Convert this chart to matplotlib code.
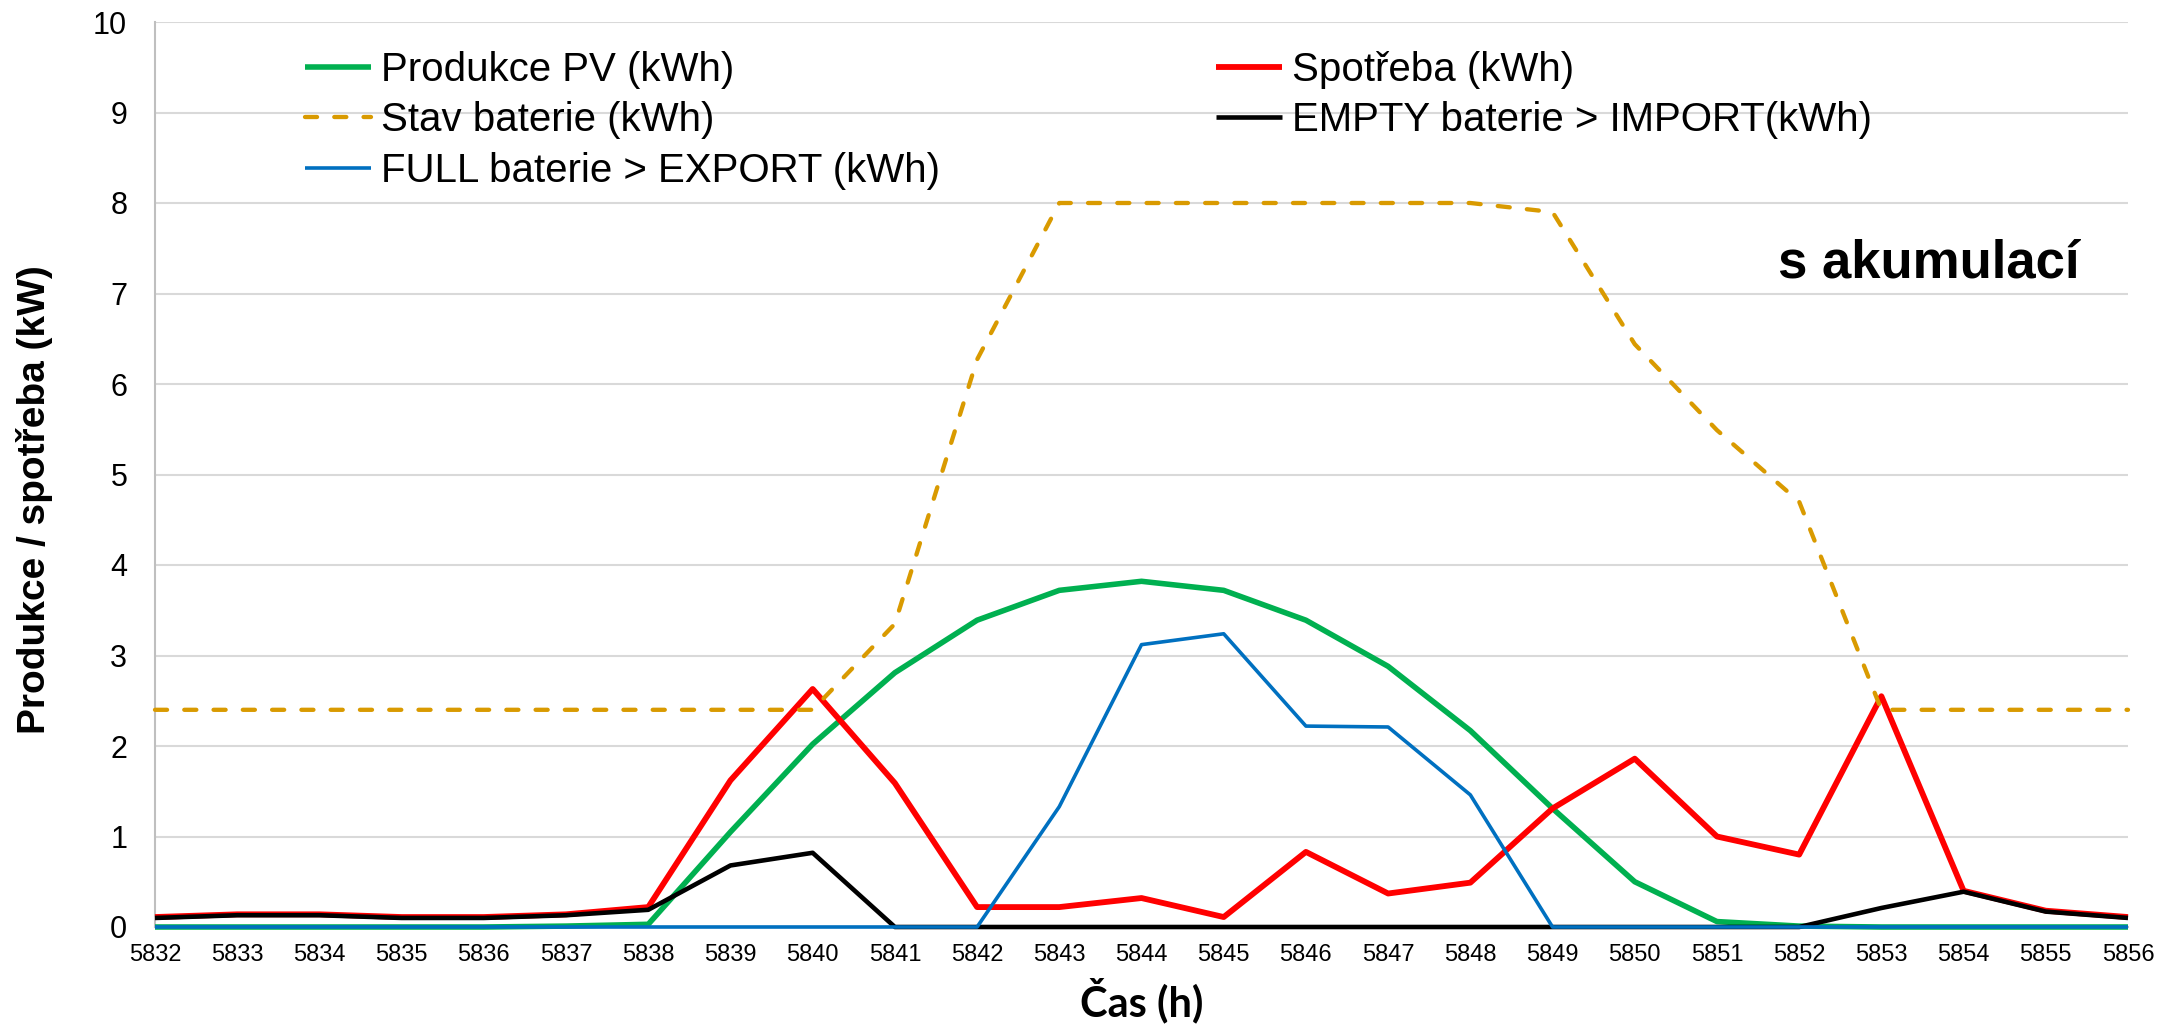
import matplotlib
matplotlib.use("Agg")
import matplotlib.pyplot as plt

plt.rcParams['font.family'] = ['Liberation Sans', 'DejaVu Sans']

# hodinová data (h)
hours = list(range(5832, 5857))
produkce_pv = [0.0, 0.0, 0.0, 0.0, 0.0, 0.01, 0.03, 1.05, 2.02, 2.81, 3.39, 3.72, 3.82,
               3.72, 3.39, 2.88, 2.17, 1.31, 0.50, 0.06, 0.01, 0.0, 0.0, 0.0, 0.0]
spotreba = [0.11, 0.14, 0.14, 0.11, 0.11, 0.14, 0.22, 1.62, 2.63, 1.59, 0.22, 0.22, 0.32,
            0.11, 0.83, 0.37, 0.49, 1.31, 1.86, 1.00, 0.80, 2.55, 0.40, 0.18, 0.11]
stav_baterie = [2.4, 2.4, 2.4, 2.4, 2.4, 2.4, 2.4, 2.4, 2.4, 3.35, 6.27, 8.0, 8.0,
                8.0, 8.0, 8.0, 8.0, 7.9, 6.44, 5.49, 4.70, 2.4, 2.4, 2.4, 2.4]
empty_import = [0.10, 0.13, 0.13, 0.10, 0.10, 0.13, 0.19, 0.68, 0.82, 0.0, 0.0, 0.0, 0.0,
                0.0, 0.0, 0.0, 0.0, 0.0, 0.0, 0.0, 0.0, 0.21, 0.39, 0.17, 0.10]
full_export = [0.0, 0.0, 0.0, 0.0, 0.0, 0.0, 0.0, 0.0, 0.0, 0.0, 0.0, 1.33, 3.12,
               3.24, 2.22, 2.21, 1.46, 0.0, 0.0, 0.0, 0.0, 0.0, 0.0, 0.0, 0.0]

W, H = 2157, 1025
fig = plt.figure(figsize=(W / 100, H / 100), dpi=100)
ax = fig.add_axes([155 / W, 1 - 927 / H, (2128 - 155) / W, (927 - 22) / H])

common = dict(clip_on=False, solid_joinstyle='round', solid_capstyle='butt')
l_pv, = ax.plot(hours, produkce_pv, color='#00B050', lw=4.0, zorder=3, **common)
l_sp, = ax.plot(hours, spotreba, color='#FF0000', lw=4.2, zorder=4, **common)
l_st, = ax.plot(hours, stav_baterie, color='#D99A00', lw=3.1, zorder=5, clip_on=False,
                linestyle=(0, (2.8, 4.0)), dash_capstyle='round', dash_joinstyle='round')
l_im, = ax.plot(hours, empty_import, color='#000000', lw=3.3, zorder=6, **common)
l_ex, = ax.plot(hours, full_export, color='#0070C0', lw=2.6, zorder=7, **common)

ax.set_xlim(5832, 5856)
ax.set_ylim(0, 10)
ax.set_xticks(hours)
ax.set_yticks(range(0, 11))
ax.tick_params(axis='x', length=0, labelsize=17, pad=12)
ax.tick_params(axis='y', length=0, labelsize=22, pad=20)
ax.grid(axis='y', color='#D9D9D9', lw=1.5)
ax.set_axisbelow(True)
for s in ('top', 'right'):
    ax.spines[s].set_visible(False)
for s in ('left', 'bottom'):
    ax.spines[s].set_color('#BFBFBF')
    ax.spines[s].set_linewidth(1.5)

# legenda ve dvou sloupcich
leg_kw = dict(loc='upper left', bbox_transform=fig.transFigure, frameon=False,
              fontsize=29, borderpad=0, borderaxespad=0, handlelength=1.64,
              handletextpad=0.25, labelspacing=0.31)
leg1 = fig.legend([l_pv, l_st, l_ex],
                  ['Produkce PV (kWh)', 'Stav baterie (kWh)', 'FULL baterie > EXPORT (kWh)'],
                  bbox_to_anchor=(305 / W, 1 - 51 / H), **leg_kw)
leg2 = fig.legend([l_sp, l_im],
                  ['Spotřeba (kWh)', 'EMPTY baterie > IMPORT(kWh)'],
                  bbox_to_anchor=(1216 / W, 1 - 51 / H), **leg_kw)

fig.text(1778 / W, 1 - 278 / H, 's akumulací', fontsize=38, fontweight='bold',
         ha='left', va='baseline')
fig.text(16 / W, 1 - 500 / H, 'Produkce / spotřeba (kW)', rotation=90, fontsize=28,
         fontweight='bold', ha='left', va='center')
fig.text(1141.5 / W, 1 - 1016 / H, 'Čas (h)', fontsize=30, fontweight='bold',
         family=['Lato', 'DejaVu Sans'], ha='center', va='baseline')

fig.savefig('out.png', dpi=100)
